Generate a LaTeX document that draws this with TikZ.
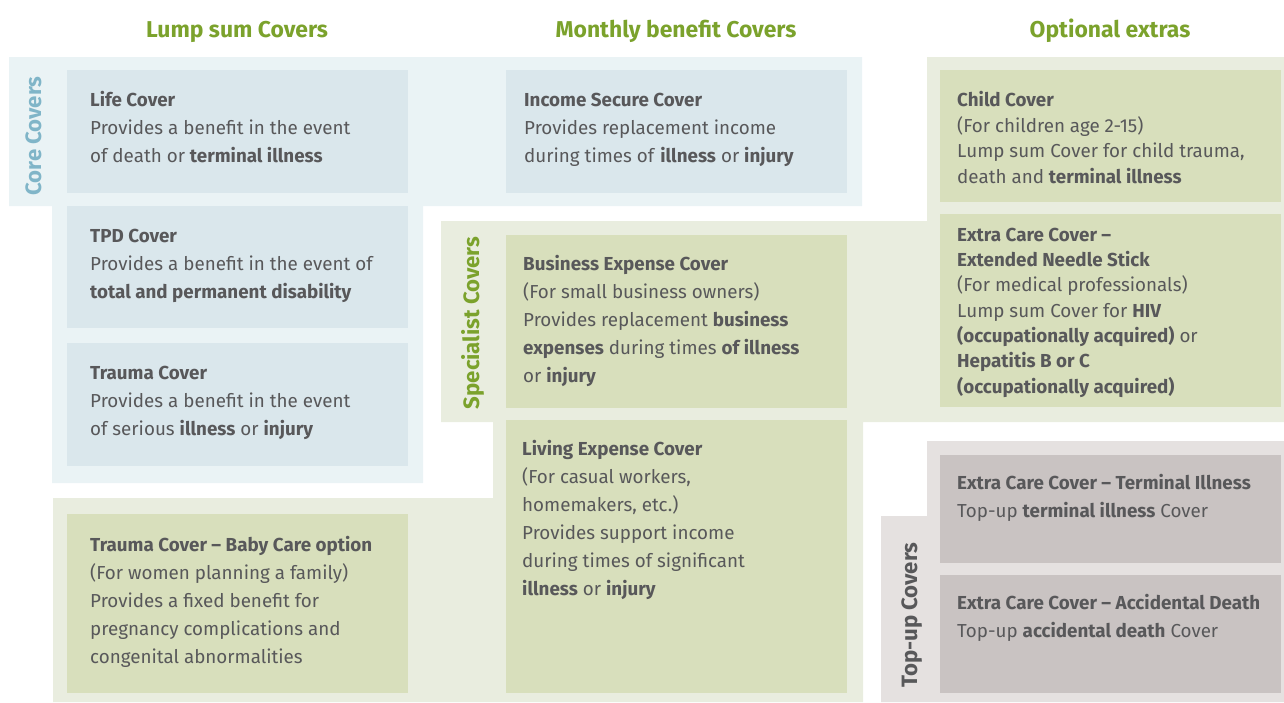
\documentclass[tikz,border=0pt]{standalone}
\usepackage{fontspec}
\setmainfont{Fira Sans}
\definecolor{regblue}{HTML}{EAF3F5}
\definecolor{boxblue}{HTML}{DAE7EC}
\definecolor{reggreen}{HTML}{E9EDDF}
\definecolor{boxgreen}{HTML}{D8DFBC}
\definecolor{reggrey}{HTML}{E5E1E0}
\definecolor{boxgrey}{HTML}{C9C3C2}
\definecolor{txtgrey}{HTML}{58585A}
\definecolor{hdgreen}{HTML}{7BA22C}
\definecolor{lblblue}{HTML}{80B5C8}
\newcommand{\bodysize}{18.8}
\tikzset{
  box/.style={draw=none, anchor=north west, inner sep=0pt, minimum width=341pt},
  bbox/.style={box, fill=boxblue},
  gbox/.style={box, fill=boxgreen},
  ybox/.style={box, fill=boxgrey},
  txtbase/.style={anchor=north west, inner sep=0pt, align=left, text=txtgrey},
  txt/.style={txtbase, font=\fontsize{\bodysize}{28}\selectfont, yshift=19.6pt},
  txtnarrow/.style={txtbase, font=\fontsize{\bodysize}{25.3}\selectfont, yshift=17.71pt},
  txtchild/.style={txtbase, font=\fontsize{\bodysize}{25.8}\selectfont, yshift=18.06pt},
  hdr/.style={anchor=base, inner sep=0pt, text=hdgreen, font=\fontsize{22.9}{26}\selectfont\bfseries},
  side/.style={anchor=base, inner sep=0pt, rotate=90, font=\fontsize{22.2}{24}\selectfont\bfseries},
}
\begin{document}
\begin{tikzpicture}[x=1pt,y=-1pt]
\useasboundingbox (0,0) rectangle (1284,702);
% background regions
\fill[regblue] (9,57) -- (862,57) -- (862,206) -- (423,206) -- (423,483) -- (52,483) -- (52,206) -- (9,206) -- cycle;
\fill[reggreen] (441,221) -- (927,221) -- (927,57) -- (1284,57) -- (1284,422) -- (863,422) -- (863,702) -- (53,702) -- (53,498) -- (493,498) -- (493,422) -- (441,422) -- cycle;
\fill[reggrey] (927,441) -- (1284,441) -- (1284,702) -- (881,702) -- (881,516) -- (927,516) -- cycle;
% headers
\node[hdr] (h1) at (237,37) {Lump sum Covers};
\node[hdr] (h2) at (676,37) {Monthly benefit Covers};
\node[hdr] (h3) at (1110,37) {Optional extras};
% side labels
\node[side, text=lblblue] (lcore) at (41,136) {Core Covers};
\node[side, text=hdgreen] (lspec) at (479,323) {Specialist Covers};
\node[side, text=txtgrey] (ltop) at (917,615) {Top-up Covers};
% boxes
\node[bbox, minimum height=123pt] (life) at (67,70) {};
\node[bbox, minimum height=122pt] (tpd) at (67,206) {};
\node[bbox, minimum height=123pt] (trauma) at (67,343) {};
\node[gbox, minimum height=179pt] (baby) at (67,514) {};
\node[bbox, minimum height=123pt] (income) at (506,70) {};
\node[gbox, minimum height=173pt] (business) at (506,235) {};
\node[gbox, minimum height=273pt] (living) at (506,420) {};
\node[gbox, minimum height=132pt] (child) at (940,70) {};
\node[gbox, minimum height=193pt] (needle) at (940,214) {};
\node[ybox, minimum height=108pt] (ti) at (940,455) {};
\node[ybox, minimum height=118pt] (ad) at (940,575) {};
% texts
\node[txt] (lifet) at (90,106) {\strut\textbf{Life Cover}\\Provides a benefit in the event\\of death or \textbf{terminal illness}};
\node[txt] (tpdt) at (90,242) {\strut\textbf{TPD Cover}\\Provides a benefit in the event of\\\textbf{total and permanent disability}};
\node[txt] (traumat) at (90,379) {\strut\textbf{Trauma Cover}\\Provides a benefit in the event\\of serious \textbf{illness} or \textbf{injury}};
\node[txt] (babyt) at (90,551) {\strut\textbf{Trauma Cover – Baby Care option}\\(For women planning a family)\\Provides a fixed benefit for\\pregnancy complications and\\congenital abnormalities};
\node[txt] (incomet) at (524,106) {\strut\textbf{Income Secure Cover}\\Provides replacement income\\during times of \textbf{illness} or \textbf{injury}};
\node[txt] (businesst) at (523,270) {\strut\textbf{Business Expense Cover}\\(For small business owners)\\Provides replacement \textbf{business}\\\textbf{expenses} during times \textbf{of illness}\\or \textbf{injury}};
\node[txt] (livingt) at (522,455) {\strut\textbf{Living Expense Cover}\\(For casual workers,\\homemakers, etc.)\\Provides support income\\during times of significant\\\textbf{illness} or \textbf{injury}};
\node[txtchild] (childt) at (957,106) {\strut\textbf{Child Cover}\\(For children age 2-15)\\Lump sum Cover for child trauma,\\death and \textbf{terminal illness}};
\node[txtnarrow] (needlet) at (957,241) {\strut\textbf{Extra Care Cover –}\\\textbf{Extended Needle Stick}\\(For medical professionals)\\Lump sum Cover for \textbf{HIV}\\\textbf{(occupationally acquired)} or\\\textbf{Hepatitis B or C}\\\textbf{(occupationally acquired)}};
\node[txt] (tit) at (957,489) {\strut\textbf{Extra Care Cover – Terminal Illness}\\Top-up \textbf{terminal illness} Cover};
\node[txt] (adt) at (957,609) {\strut\textbf{Extra Care Cover – Accidental Death}\\Top-up \textbf{accidental death} Cover};
\end{tikzpicture}
\end{document}
